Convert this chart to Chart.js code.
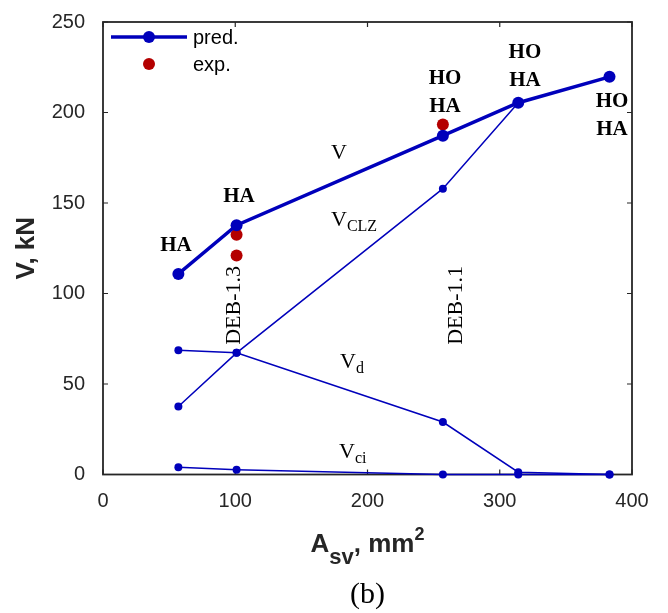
<!DOCTYPE html>
<html>
<head>
<meta charset="utf-8">
<script src="https://cdn.jsdelivr.net/npm/chart.js@4.4.1/dist/chart.umd.min.js"></script>
<style>
  html, body { margin: 0; padding: 0; background: #fff; }
  #wrap { width: 668px; height: 613px; }
</style>
</head>
<body>
<div id="wrap"><canvas id="chart" width="668" height="613"></canvas></div>
<script>
// steel area A_sv (mm^2) for the five beams
const asv = [57, 101, 257, 314, 383]
const predV = [110.8, 137.7, 187.2, 205.4, 219.7]
const vClz = [37.6, 67.2, 157.9, 205.4]
const vD = [68.6, 67.2, 29, 1.3, 0]
const vCi = [4.0, 2.6, 0, 0, 0]

const expX = [101, 101, 257]
const expV = [132.5, 121, 193.4]

const xTicks = [0, 100, 200, 300, 400]
const yTicks = [0, 50, 100, 150, 200, 250]

// text notes placed in data units
const failureNotes = [
  {lines: ['HA'], x: 55.2, y: 126.5},
  {lines: ['HA'], x: 102.8, y: 153.5},
  {lines: ['HO', 'HA'], x: 258.6, y: 218.9},
  {lines: ['HO', 'HA'], x: 319, y: 232.9},
  {lines: ['HO', 'HA'], x: 384.9, y: 206.1},
]
const curveNotes = [
  {base: 'V', sub: '', x: 172.4, y: 174.5},
  {base: 'V', sub: 'CLZ', x: 172.4, y: 137.5},
  {base: 'V', sub: 'd', x: 179.2, y: 58.7},
  {base: 'V', sub: 'ci', x: 178.5, y: 9.1},
]
const beamNotes = [
  {text: 'DEB-1.3', x: 99.1, y: 93.4},
  {text: 'DEB-1.1', x: 266.9, y: 93.4},
]

const blue = '#0000bb'
const red = '#b40000'
const frameColor = '#262626'
const sans = "'Liberation Sans', Arial, sans-serif"
const serif = "'Liberation Serif', 'Times New Roman', serif"

const toPoints = (xs, ys) => ys.map((y, i) => ({x: xs[i], y: y}))

function thinSeries(label, ys) {
  return {
    label: label,
    data: toPoints(asv, ys),
    showLine: true,
    borderColor: blue,
    backgroundColor: blue,
    borderWidth: 1.5,
    pointRadius: 4,
    pointHoverRadius: 4,
    pointBorderWidth: 0,
  }
}

const decorations = {
  id: 'decorations',
  beforeDatasetsDraw(chart) {
    const {ctx, chartArea: a, scales} = chart
    ctx.save()
    ctx.strokeStyle = frameColor
    ctx.lineWidth = 1.8
    ctx.strokeRect(a.left, a.top, a.right - a.left, a.bottom - a.top)
    ctx.lineWidth = 1.2
    const tl = 5
    ctx.beginPath()
    xTicks.forEach(v => {
      const px = scales.x.getPixelForValue(v)
      ctx.moveTo(px, a.bottom); ctx.lineTo(px, a.bottom - tl)
      ctx.moveTo(px, a.top); ctx.lineTo(px, a.top + tl)
    })
    yTicks.forEach(v => {
      const py = scales.y.getPixelForValue(v)
      ctx.moveTo(a.left, py); ctx.lineTo(a.left + tl, py)
      ctx.moveTo(a.right, py); ctx.lineTo(a.right - tl, py)
    })
    ctx.stroke()
    ctx.restore()
  },
  afterDraw(chart) {
    const {ctx, chartArea: a, scales} = chart
    const sx = v => scales.x.getPixelForValue(v)
    const sy = v => scales.y.getPixelForValue(v)
    ctx.save()
    ctx.fillStyle = '#000'

    // failure mode notes
    ctx.font = `bold 21px ${serif}`
    ctx.textAlign = 'center'
    ctx.textBaseline = 'middle'
    failureNotes.forEach(n => {
      n.lines.forEach((t, i) => ctx.fillText(t, sx(n.x), sy(n.y) + i * 28))
    })

    // curve names with subscripts
    ctx.textAlign = 'left'
    ctx.textBaseline = 'alphabetic'
    curveNotes.forEach(n => {
      const px = sx(n.x), py = sy(n.y)
      ctx.font = `22px ${serif}`
      ctx.fillText(n.base, px, py)
      const w = ctx.measureText(n.base).width
      ctx.font = `16px ${serif}`
      ctx.fillText(n.sub, px + w, py + 5)
    })

    // beam ids, rotated
    ctx.font = `22px ${serif}`
    ctx.textAlign = 'center'
    ctx.textBaseline = 'middle'
    beamNotes.forEach(n => {
      ctx.save()
      ctx.translate(sx(n.x), sy(n.y))
      ctx.rotate(-Math.PI / 2)
      ctx.fillText(n.text, 0, 0)
      ctx.restore()
    })

    // legend
    const lx0 = a.left + 8, lx1 = a.left + 84, lmid = a.left + 46
    ctx.strokeStyle = blue
    ctx.lineWidth = 3.5
    ctx.beginPath()
    ctx.moveTo(lx0, 37); ctx.lineTo(lx1, 37)
    ctx.stroke()
    ctx.fillStyle = blue
    ctx.beginPath(); ctx.arc(lmid, 37, 6, 0, Math.PI * 2); ctx.fill()
    ctx.fillStyle = red
    ctx.beginPath(); ctx.arc(lmid, 64, 6, 0, Math.PI * 2); ctx.fill()
    ctx.fillStyle = '#000'
    ctx.font = `20px ${sans}`
    ctx.textAlign = 'left'
    ctx.fillText('pred.', a.left + 90, 38)
    ctx.fillText('exp.', a.left + 90, 65)

    // x axis title: A_sv, mm^2
    const cx = (a.left + a.right) / 2
    const base = 552
    const parts = [
      {t: 'A', font: `bold 26px ${sans}`, dy: 0},
      {t: 'sv', font: `bold 22px ${sans}`, dy: 12},
      {t: ', mm', font: `bold 26px ${sans}`, dy: 0},
      {t: '2', font: `bold 18px ${sans}`, dy: -12},
    ]
    let total = 0
    parts.forEach(p => { ctx.font = p.font; p.w = ctx.measureText(p.t).width; total += p.w })
    let x = cx - total / 2
    ctx.fillStyle = frameColor
    ctx.textBaseline = 'alphabetic'
    parts.forEach(p => { ctx.font = p.font; ctx.fillText(p.t, x, base + p.dy); x += p.w })

    // panel tag
    ctx.fillStyle = '#000'
    ctx.font = `30px ${serif}`
    ctx.textAlign = 'center'
    ctx.fillText('(b)', cx, 603)
    ctx.restore()
  }
}

const tickFont = {family: sans, size: 20}

new Chart(document.getElementById('chart').getContext('2d'), {
  type: 'scatter',
  data: {
    datasets: [
      {
        label: 'pred.',
        data: toPoints(asv, predV),
        showLine: true,
        borderColor: blue,
        backgroundColor: blue,
        borderWidth: 3.5,
        pointRadius: 6,
        pointHoverRadius: 6,
        pointBorderWidth: 0,
      },
      {
        label: 'exp.',
        data: toPoints(expX, expV),
        showLine: false,
        borderColor: red,
        backgroundColor: red,
        pointRadius: 6,
        pointHoverRadius: 6,
        pointBorderWidth: 0,
      },
      thinSeries('Vclz', vClz),
      thinSeries('Vd', vD),
      thinSeries('Vci', vCi),
    ],
  },
  options: {
    responsive: false,
    animation: false,
    clip: false,
    layout: {
      padding: {top: 21, right: 36, left: 0, bottom: 0},
    },
    scales: {
      x: {
        type: 'linear',
        min: 0,
        max: 400,
        afterFit: s => { s.height = 138.5 },
        afterBuildTicks: s => { s.ticks = xTicks.map(v => ({value: v})) },
        grid: {display: false},
        border: {display: false},
        ticks: {font: tickFont, color: frameColor, padding: 7, maxRotation: 0},
      },
      y: {
        type: 'linear',
        min: 0,
        max: 250,
        afterFit: s => { s.width = 103 },
        afterBuildTicks: s => { s.ticks = yTicks.map(v => ({value: v})) },
        grid: {display: false},
        border: {display: false},
        ticks: {font: tickFont, color: frameColor, padding: 10},
        title: {
          display: true,
          text: 'V, kN',
          color: frameColor,
          font: {family: sans, size: 26, weight: 'bold'},
          padding: {top: 11, bottom: 0},
        },
      },
    },
    plugins: {
      legend: {display: false},
      tooltip: {enabled: false},
    },
  },
  plugins: [decorations],
})
</script>
</body>
</html>
